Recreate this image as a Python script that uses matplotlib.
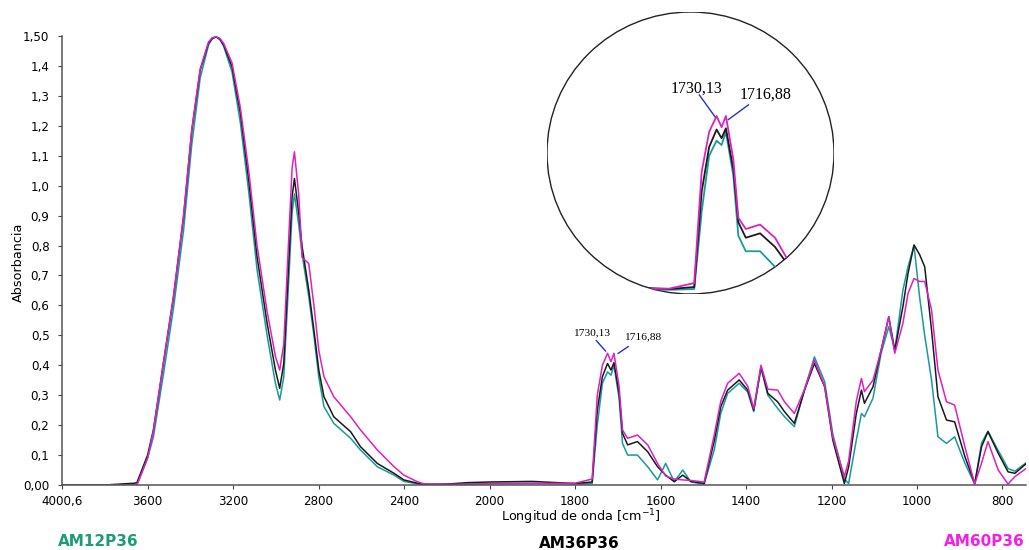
import numpy as np
import matplotlib
matplotlib.use("Agg")
import matplotlib.pyplot as plt
from matplotlib.patches import Ellipse

# wavenumber grid [cm-1] and absorbance
wavenumber = [4000, 3800, 3660, 3650, 3600, 3573, 3526, 3479, 3432, 3393,
              3354, 3315, 3298, 3280, 3262, 3244, 3205, 3166, 3127, 3088,
              3041, 3002, 2982, 2963, 2940, 2924, 2913, 2893, 2877, 2846,
              2822, 2799, 2775, 2729, 2650, 2604, 2525, 2447, 2401, 2338,
              2307, 2200, 2100, 2000, 1900, 1800, 1760, 1748, 1736, 1724,
              1716, 1709, 1697, 1689, 1677, 1654, 1630, 1607, 1588, 1568,
              1548, 1529, 1498, 1474, 1459, 1443, 1416, 1396, 1382, 1365,
              1349, 1326, 1310, 1287, 1263, 1240, 1216, 1197, 1170, 1160,
              1142, 1130, 1123, 1103, 1084, 1066, 1052, 1033, 1021, 1007,
              994, 982, 966, 951, 931, 912, 888, 865, 849, 834,
              810, 787, 771, 744]

am12p36 = [0.0, 0.0, 0.0, 0.0, 0.09, 0.16, 0.37, 0.59, 0.85, 1.14,
           1.36, 1.47, 1.490, 1.497, 1.488, 1.465, 1.38, 1.21, 0.98, 0.72,
           0.50, 0.34, 0.284, 0.36, 0.68, 0.91, 0.972, 0.87, 0.77, 0.629,
           0.50, 0.36, 0.262, 0.206, 0.156, 0.117, 0.061, 0.033, 0.012, 0.004,
           0.002, 0.002, 0.004, 0.005, 0.006, 0.003, 0.005, 0.20, 0.34, 0.378,
           0.367, 0.40, 0.29, 0.139, 0.100, 0.100, 0.061, 0.017, 0.072, 0.011,
           0.05, 0.01, 0.003, 0.12, 0.24, 0.306, 0.34, 0.31, 0.245, 0.39,
           0.30, 0.256, 0.228, 0.195, 0.32, 0.428, 0.345, 0.17, 0.02, 0.005,
           0.15, 0.239, 0.228, 0.29, 0.44, 0.529, 0.45, 0.651, 0.729, 0.80,
           0.629, 0.50, 0.351, 0.161, 0.139, 0.161, 0.073, 0.003, 0.14, 0.18,
           0.115, 0.055, 0.046, 0.075]

am36p36 = [0.0, 0.0, 0.006, 0.008, 0.10, 0.184, 0.407, 0.628, 0.895, 1.186,
           1.386, 1.476, 1.492, 1.497, 1.490, 1.470, 1.397, 1.242, 1.019, 0.763,
           0.541, 0.384, 0.323, 0.406, 0.740, 0.963, 1.024, 0.908, 0.796, 0.651,
           0.518, 0.384, 0.295, 0.228, 0.178, 0.128, 0.072, 0.039, 0.017, 0.006,
           0.002, 0.003, 0.008, 0.010, 0.012, 0.005, 0.010, 0.250, 0.362, 0.406,
           0.384, 0.409, 0.306, 0.173, 0.134, 0.145, 0.111, 0.061, 0.033, 0.011,
           0.033, 0.012, 0.005, 0.150, 0.262, 0.317, 0.351, 0.317, 0.250, 0.395,
           0.306, 0.278, 0.245, 0.206, 0.317, 0.406, 0.328, 0.150, 0.005, 0.060,
           0.239, 0.317, 0.273, 0.328, 0.450, 0.562, 0.450, 0.596, 0.707, 0.802,
           0.770, 0.729, 0.518, 0.295, 0.217, 0.211, 0.095, 0.005, 0.128, 0.178,
           0.106, 0.044, 0.039, 0.072]

am60p36 = [0.0, 0.0, 0.0, 0.0, 0.09, 0.18, 0.41, 0.63, 0.90, 1.19,
           1.39, 1.48, 1.494, 1.497, 1.492, 1.475, 1.41, 1.26, 1.05, 0.80,
           0.58, 0.43, 0.384, 0.47, 0.82, 1.06, 1.113, 0.97, 0.76, 0.740,
           0.60, 0.45, 0.362, 0.295, 0.228, 0.184, 0.117, 0.061, 0.033, 0.011,
           0.004, 0.002, 0.003, 0.004, 0.005, 0.006, 0.02, 0.30, 0.40, 0.44,
           0.412, 0.44, 0.33, 0.184, 0.156, 0.167, 0.134, 0.072, 0.03, 0.02,
           0.017, 0.015, 0.01, 0.17, 0.28, 0.34, 0.373, 0.33, 0.255, 0.40,
           0.32, 0.317, 0.278, 0.239, 0.32, 0.417, 0.33, 0.16, 0.028, 0.08,
           0.28, 0.356, 0.312, 0.35, 0.45, 0.562, 0.44, 0.54, 0.64, 0.69,
           0.68, 0.68, 0.585, 0.384, 0.278, 0.267, 0.128, 0.003, 0.073, 0.145,
           0.05, 0.003, 0.028, 0.056]

x_ticks = [4000.6, 3600, 3200, 2800, 2400, 2000, 1800, 1600, 1400, 1200, 1000, 800]
x_labels = ["4000,6", "3600", "3200", "2800", "2400", "2000",
            "1800", "1600", "1400", "1200", "1000", "800"]
y_ticks = [round(0.1 * i, 1) for i in range(16)]
y_labels = ["0,00"] + [("%.1f" % v).replace(".", ",") for v in y_ticks[1:-1]] + ["1,50"]

c_teal = "#189a9a"
c_black = "#1a1a1a"
c_mag = "#dc20c4"


# FTIR style axis: scale doubles below 2000 cm-1
def fwd(w):
    w = np.asarray(w, dtype=float)
    return np.where(w >= 2000, w, 2 * w - 2000)


def inv(u):
    u = np.asarray(u, dtype=float)
    return np.where(u >= 2000, u, (u + 2000) / 2)


W, H = 1029, 550
fig = plt.figure(figsize=(W / 100, H / 100), dpi=100)
ax = fig.add_axes([62 / W, 1 - 485 / H, 964 / W, 449 / H])
ax.set_xscale("function", functions=(fwd, inv))

series = [(am12p36, c_teal), (am36p36, c_black), (am60p36, c_mag)]
for ys, col in series:
    ax.plot(wavenumber, ys, color=col, lw=1.1)

ax.set_xlim(4000.6, 745)
ax.set_ylim(0, 1.5)
ax.set_xticks(x_ticks)
ax.set_xticklabels(x_labels, fontsize=8.6)
ax.set_yticks(y_ticks)
ax.set_yticklabels(y_labels, fontsize=8.6)
ax.tick_params(direction="out", length=3, width=0.8, color="#444444", pad=6)
ax.tick_params(axis="x", pad=4)
for s in ["top", "right"]:
    ax.spines[s].set_visible(False)
for s in ["left", "bottom"]:
    ax.spines[s].set_color("#555555")
    ax.spines[s].set_linewidth(1.1)

narrow = ["Liberation Sans Narrow", "DejaVu Sans"]
fig.text(581 / W, 1 - 517 / H, "Longitud de onda [cm$^{-1}$]", ha="center", va="center",
         fontsize=9.2, family=narrow)
fig.text(18 / W, 1 - 262 / H, "Absorbancia", rotation=90, ha="center", va="center",
         fontsize=9.2, family=narrow)

fig.text(98 / W, 1 - 541 / H, "AM12P36", color="#1d9c78", fontsize=11,
         fontweight="bold", ha="center", va="center")
fig.text(579 / W, 1 - 543 / H, "AM36P36", color="black", fontsize=11,
         fontweight="bold", ha="center", va="center")
fig.text(984 / W, 1 - 541 / H, "AM60P36", color="#f41fe6", fontsize=11,
         fontweight="bold", ha="center", va="center")

serif = ["Liberation Serif", "DejaVu Serif"]
blue = "#2233c8"
ax.annotate("", xy=(1724, 0.44), xytext=(1755, 0.49),
            arrowprops=dict(arrowstyle="-", color=blue, lw=1.0))
ax.annotate("", xy=(1705, 0.434), xytext=(1670, 0.468),
            arrowprops=dict(arrowstyle="-", color=blue, lw=1.0))
ax.text(1761, 0.508, "1730,13", fontsize=8.2, family=serif, ha="center", va="center")
ax.text(1642, 0.494, "1716,88", fontsize=8.2, family=serif, ha="center", va="center")

# magnified circle around the carbonyl doublet
axi = fig.add_axes([547 / W, 1 - 294 / H, 287 / W, 282 / H])
axi.set_xlim(1997, 1535)
axi.set_ylim(-0.0075, 0.7015)
axi.axis("off")
circ = Ellipse((0.5, 0.5), 1, 1, transform=axi.transAxes, facecolor="white",
               edgecolor="#222222", lw=1.0, zorder=0)
axi.add_patch(circ)
for ys, col in series:
    ln, = axi.plot(wavenumber, ys, color=col, lw=1.3)
    ln.set_clip_path(circ)
axi.plot([1751.8, 1726.5], [0.493, 0.438], color=blue, lw=1.0, clip_on=False)
axi.plot([1672.8, 1705.0], [0.468, 0.431], color=blue, lw=1.0, clip_on=False)
axi.text(1757.1, 0.51, "1730,13", fontsize=11.5, family=serif, ha="center", va="center")
axi.text(1645.8, 0.493, "1716,88", fontsize=11.5, family=serif, ha="center", va="center")

fig.savefig("out.png", dpi=100)
